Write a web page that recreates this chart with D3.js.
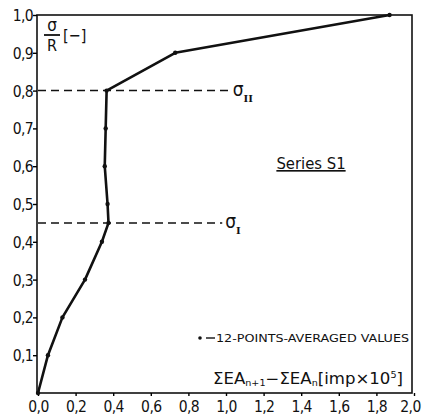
<!DOCTYPE html>
<html>
<head>
<meta charset="utf-8">
<script src="https://cdn.jsdelivr.net/npm/d3@7"></script>
<style>
  body { margin: 0; background: #fff; }
  text { font-family: "DejaVu Sans Condensed", "Liberation Sans", sans-serif; fill: #111; }
</style>
</head>
<body>
<script>
// 12-points-averaged values, series S1
var sumDiff = [0, 0.053, 0.13, 0.25, 0.34, 0.375, 0.37, 0.355, 0.36, 0.365, 0.73, 1.87];
var ratio   = [0, 0.1, 0.2, 0.3, 0.4, 0.45, 0.5, 0.6, 0.7, 0.8, 0.9, 1.0];

var xTicks = [0, 0.2, 0.4, 0.6, 0.8, 1.0, 1.2, 1.4, 1.6, 1.8, 2.0];
var yTicks = [0.1, 0.2, 0.3, 0.4, 0.5, 0.6, 0.7, 0.8, 0.9, 1.0];

// limit stresses
var limitNames  = ["I", "II"];
var limitValues = [0.45, 0.8];
var limitEnds   = [0.98, 1.02];

var screen = { width: 423, height: 417 };
var margins = { left: 38, top: 15, right: 11, bottom: 24 };

var xScale = d3.scaleLinear()
               .domain([0, 2])
               .range([margins.left, screen.width - margins.right + 2]);

var yScale = d3.scaleLinear()
               .domain([0, 1])
               .range([screen.height - margins.bottom, margins.top]);

var fmt = function(d) { return d3.format(".1f")(d).replace(".", ","); };

var svg = d3.select("body")
            .append("svg")
            .attr("width", screen.width)
            .attr("height", screen.height);

// frame
svg.append("rect")
   .attr("x", margins.left - 1)
   .attr("y", yScale(1))
   .attr("width", (screen.width - margins.right) - margins.left + 1)
   .attr("height", yScale(0) - yScale(1))
   .attr("fill", "none")
   .attr("stroke", "#111")
   .attr("stroke-width", 1.6);

// axes
var yAxis = d3.axisLeft(yScale)
              .tickValues(yTicks)
              .tickSize(4)
              .tickFormat(fmt);

svg.append("g")
   .attr("class", "yAxis")
   .attr("transform", "translate(" + (margins.left - 1) + ",0)")
   .call(yAxis)
   .call(function(g) {
     g.select(".domain").remove();
     g.selectAll("line").attr("stroke-width", 1.4);
     g.selectAll("text").attr("font-size", 15.5).attr("x", -4).attr("dy", "0.36em")
      .attr("letter-spacing", -0.6);
   });

var xAxis = d3.axisBottom(xScale)
              .tickValues(xTicks)
              .tickSize(3)
              .tickFormat(fmt);

svg.append("g")
   .attr("class", "xAxis")
   .attr("transform", "translate(0," + yScale(0) + ")")
   .call(xAxis)
   .call(function(g) {
     g.select(".domain").remove();
     g.selectAll("line").attr("stroke-width", 1.4);
     g.selectAll("text").attr("font-size", 15.5).attr("y", 8)
      .attr("letter-spacing", -0.6);
     g.selectAll(".tick").filter(function(d) { return d === 2; })
      .select("text").attr("dx", -4);
   });

// dashed limit lines
limitValues.forEach(function(v, i) {
  svg.append("line")
     .attr("x1", margins.left)
     .attr("x2", xScale(limitEnds[i]))
     .attr("y1", yScale(v))
     .attr("y2", yScale(v))
     .attr("stroke", "#111")
     .attr("stroke-width", 1.5)
     .attr("stroke-dasharray", "8,5");

  var lab = svg.append("text")
               .attr("x", xScale(limitEnds[i]) + 3)
               .attr("y", yScale(v) + 5)
               .attr("font-size", 19);
  lab.append("tspan").text("σ");
  lab.append("tspan")
     .attr("dy", 6)
     .attr("font-size", 10)
     .attr("font-weight", "bold")
     .attr("font-family", "DejaVu Serif")
     .text(limitNames[i]);
});

// data line
var drawLine = d3.line()
                 .x(function(d, i) { return xScale(sumDiff[i]); })
                 .y(function(d) { return yScale(d); });

svg.append("path")
   .datum(ratio)
   .attr("d", drawLine)
   .attr("fill", "none")
   .attr("stroke", "#111")
   .attr("stroke-width", 2.6)
   .attr("stroke-linejoin", "round");

svg.append("g")
   .selectAll("circle")
   .data(ratio)
   .enter()
   .append("circle")
   .attr("cx", function(d, i) { return xScale(sumDiff[i]); })
   .attr("cy", function(d) { return yScale(d); })
   .attr("r", 2.2)
   .attr("fill", "#111");

// y label  sigma / R [-]
svg.append("text")
   .attr("x", 52).attr("y", 31)
   .attr("text-anchor", "middle")
   .attr("font-size", 17)
   .text("σ");
svg.append("line")
   .attr("x1", 44).attr("x2", 60)
   .attr("y1", 35).attr("y2", 35)
   .attr("stroke", "#111").attr("stroke-width", 1.8);
svg.append("text")
   .attr("x", 52).attr("y", 51)
   .attr("text-anchor", "middle")
   .attr("font-size", 16)
   .text("R");
svg.append("text")
   .attr("x", 63).attr("y", 41)
   .attr("font-size", 16)
   .text("[−]");

// series title
svg.append("text")
   .attr("x", 311).attr("y", 169)
   .attr("text-anchor", "middle")
   .attr("font-size", 16.5)
   .attr("text-decoration", "underline")
   .text("Series S1");

// legend
svg.append("circle")
   .attr("cx", 200).attr("cy", 338)
   .attr("r", 1.8).attr("fill", "#111");
svg.append("line")
   .attr("x1", 206).attr("x2", 215)
   .attr("y1", 338).attr("y2", 338)
   .attr("stroke", "#111").attr("stroke-width", 1.4);
svg.append("text")
   .attr("x", 216).attr("y", 342)
   .attr("font-size", 10.5)
   .attr("textLength", 193)
   .attr("lengthAdjust", "spacingAndGlyphs")
   .text("12-POINTS-AVERAGED VALUES");

// x label
var xl = svg.append("text")
            .attr("x", 213).attr("y", 384)
            .attr("font-size", 15.5)
            .attr("textLength", 190)
            .attr("lengthAdjust", "spacingAndGlyphs");
xl.append("tspan").text("ΣEA");
xl.append("tspan").attr("font-size", 9).attr("dy", 2).text("n+1");
xl.append("tspan").attr("dy", -2).text("−ΣEA");
xl.append("tspan").attr("font-size", 9).attr("dy", 2).text("n");
xl.append("tspan").attr("dy", -2).text("[imp×10");
xl.append("tspan").attr("font-size", 9).attr("dy", -6).text("5");
xl.append("tspan").attr("dy", 6).text("]");
</script>
</body>
</html>
